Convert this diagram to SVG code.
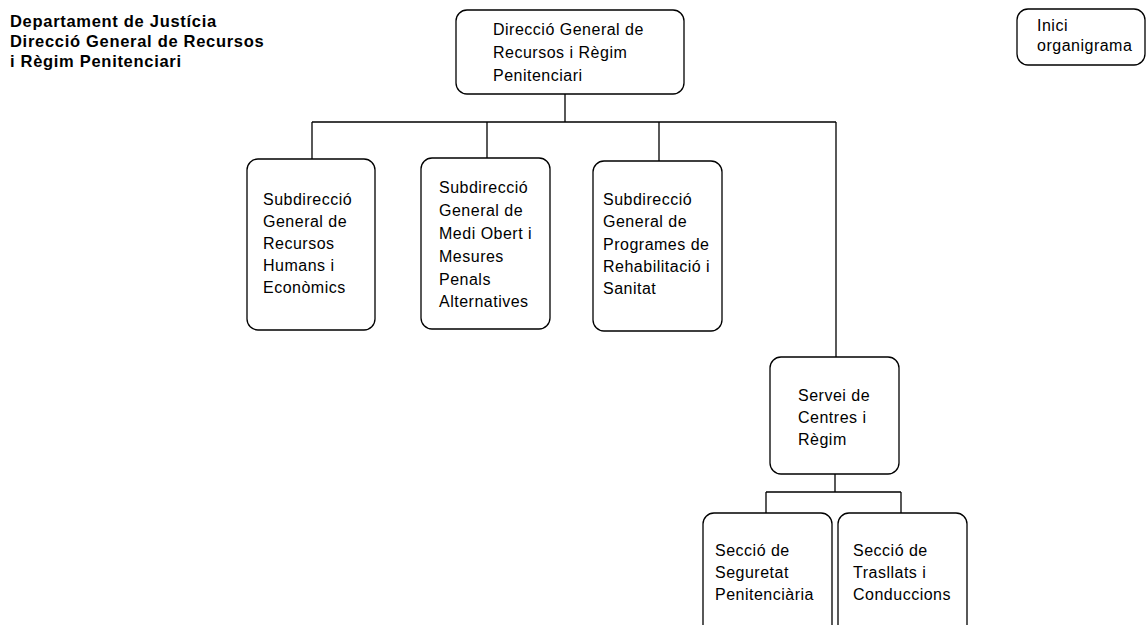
<svg xmlns="http://www.w3.org/2000/svg" width="1146" height="625" viewBox="0 0 1146 625">
<style>
.box{fill:#fff;stroke:#000;stroke-width:1.3}
.ln{fill:none;stroke:#000;stroke-width:1.3}
.t{font-family:"Liberation Sans",Arial,sans-serif;font-size:16px;letter-spacing:0.5px;fill:#000}
.h{font-family:"Liberation Sans",Arial,sans-serif;font-size:16.5px;font-weight:bold;letter-spacing:0.7px;fill:#000}
</style>
<rect width="1146" height="625" fill="#fff"/>
<g id="header">
<text class="h" x="10" y="27">Departament de Justícia</text>
<text class="h" x="10" y="47">Direcció General de Recursos</text>
<text class="h" x="10" y="67">i Règim Penitenciari</text>
</g>
<g id="connectors">
<path class="ln" d="M565 94V122M312 122H836M312 122V159M487 122V158M659 122V161M836 122V357"/>
<path class="ln" d="M835 474V492M766 492H901M766 492V513M901 492V513"/>
</g>
<g id="n-top">
<rect class="box" x="456" y="10" width="228" height="84" rx="11"/>
<text class="t" x="493" y="35">Direcció General de</text>
<text class="t" x="493" y="58">Recursos i Règim</text>
<text class="t" x="493" y="81">Penitenciari</text>
</g>
<g id="n-inici">
<rect class="box" x="1017" y="9" width="128" height="56" rx="11"/>
<text class="t" x="1037" y="31">Inici</text>
<text class="t" x="1037" y="51">organigrama</text>
</g>
<g id="n-rh">
<rect class="box" x="247" y="159" width="128" height="171" rx="11"/>
<text class="t" x="263" y="205">Subdirecció</text>
<text class="t" x="263" y="227">General de</text>
<text class="t" x="263" y="249">Recursos</text>
<text class="t" x="263" y="271">Humans i</text>
<text class="t" x="263" y="293">Econòmics</text>
</g>
<g id="n-mo">
<rect class="box" x="421" y="158" width="129" height="171" rx="11"/>
<text class="t" x="439" y="193">Subdirecció</text>
<text class="t" x="439" y="216">General de</text>
<text class="t" x="439" y="239">Medi Obert i</text>
<text class="t" x="439" y="262">Mesures</text>
<text class="t" x="439" y="285">Penals</text>
<text class="t" x="439" y="307">Alternatives</text>
</g>
<g id="n-pr">
<rect class="box" x="593" y="161" width="129" height="170" rx="11"/>
<text class="t" x="603" y="205">Subdirecció</text>
<text class="t" x="603" y="227">General de</text>
<text class="t" x="603" y="250">Programes de</text>
<text class="t" x="603" y="272">Rehabilitació i</text>
<text class="t" x="603" y="294">Sanitat</text>
</g>
<g id="n-servei">
<rect class="box" x="770" y="357" width="129" height="117" rx="11"/>
<text class="t" x="798" y="401">Servei de</text>
<text class="t" x="798" y="423">Centres i</text>
<text class="t" x="798" y="445">Règim</text>
</g>
<g id="n-seg">
<rect class="box" x="703" y="513" width="129" height="130" rx="11"/>
<text class="t" x="715" y="556">Secció de</text>
<text class="t" x="715" y="578">Seguretat</text>
<text class="t" x="715" y="600">Penitenciària</text>
</g>
<g id="n-tra">
<rect class="box" x="838" y="513" width="129" height="130" rx="11"/>
<text class="t" x="853" y="556">Secció de</text>
<text class="t" x="853" y="578">Trasllats i</text>
<text class="t" x="853" y="600">Conduccions</text>
</g>
</svg>
